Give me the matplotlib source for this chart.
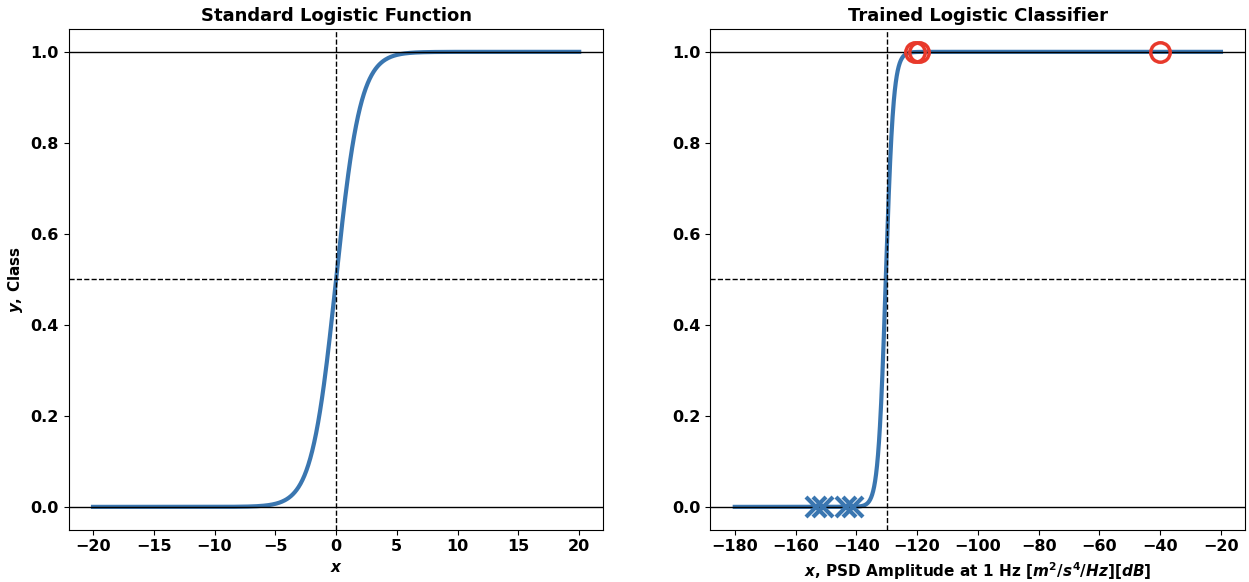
import numpy as np
import matplotlib.pyplot as plt

plt.rcParams['font.weight'] = 'bold'
plt.rcParams['axes.titleweight'] = 'bold'
plt.rcParams['axes.labelweight'] = 'bold'
plt.rcParams['mathtext.fontset'] = 'custom'
plt.rcParams['mathtext.it'] = 'DejaVu Sans:italic:bold'
plt.rcParams['mathtext.rm'] = 'DejaVu Sans:bold'

# standard logistic
x_std_range = (-20, 20)
std_center = 0.0
std_slope = 1.0

# trained classifier
x_psd_range = (-180, -20)
clf_center = -130.3
clf_slope = 0.8
class0_x = [-153.2, -150.8, -143.5, -141.1]   # class 0 samples
class1_x = [-120.6, -119.5, -40.0]            # class 1 samples

blue = '#3a76b0'
red = '#e8392b'


def logistic(x, c, k):
    return 1.0 / (1.0 + np.exp(-k * (x - c)))


fig, (ax1, ax2) = plt.subplots(1, 2, figsize=(12.49, 5.82), dpi=100)

x1 = np.linspace(*x_std_range, 500)
ax1.plot(x1, logistic(x1, std_center, std_slope), color=blue, lw=3)
ax1.axhline(0, color='k', lw=1)
ax1.axhline(1, color='k', lw=1)
ax1.axhline(0.5, color='k', lw=1, ls='--')
ax1.axvline(std_center, color='k', lw=1, ls='--')
ax1.set_title('Standard Logistic Function', fontsize=13)
ax1.set_xlabel('$x$', fontsize=11)
ax1.set_ylabel('$y$, Class', fontsize=11)

x2 = np.linspace(*x_psd_range, 2000)
ax2.plot(x2, logistic(x2, clf_center, clf_slope), color=blue, lw=3)
ax2.axhline(0, color='k', lw=1)
ax2.axhline(1, color='k', lw=1)
ax2.axhline(0.5, color='k', lw=1, ls='--')
ax2.axvline(-130, color='k', lw=1, ls='--')
ax2.plot(class0_x, np.zeros(len(class0_x)), 'x', color=blue, ms=14, mew=3)
ax2.plot(class1_x, np.ones(len(class1_x)), 'o', mfc='none', mec=red, ms=14, mew=2.5)
ax2.set_title('Trained Logistic Classifier', fontsize=13)
ax2.set_xlabel('$x$, PSD Amplitude at 1 Hz [$m^2/s^4/Hz$][$dB$]', fontsize=11)

for ax in (ax1, ax2):
    ax.set_ylim(-0.05, 1.05)
    ax.tick_params(labelsize=11.5)

fig.subplots_adjust(left=0.055, right=0.997, top=0.95, bottom=0.09, wspace=0.2)
fig.savefig('out.png')
